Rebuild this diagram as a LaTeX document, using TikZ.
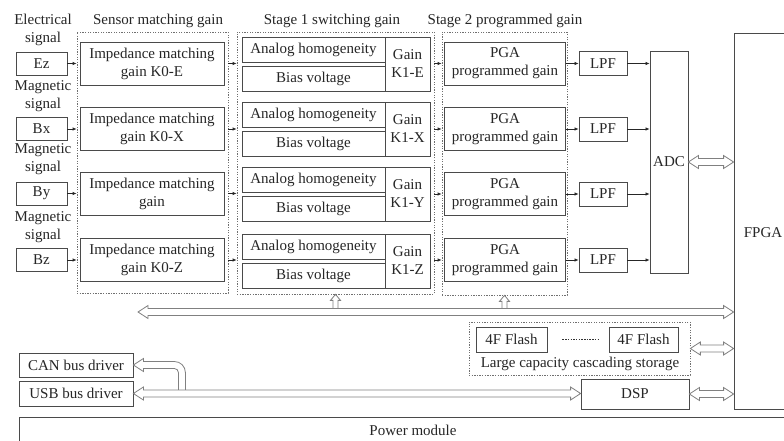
\documentclass[tikz,border=0pt]{standalone}
\usepackage{fontspec}
\setmainfont{Liberation Serif}
\usetikzlibrary{arrows.meta,calc}
\definecolor{boxc}{HTML}{4A4A4A}
\definecolor{dashc}{HTML}{707070}
\definecolor{holc}{HTML}{808080}
% double-headed hollow horizontal arrow between two named coordinates (left, right)
\newcommand\hollowH[2]{%
  \draw[hollow] (#1) -- ++(10,-6.5) -- ++(0,3) -- ($(#2)+(-10,-3.5)$) -- ++(0,-3) -- (#2)
    -- ++(-10,6.5) -- ++(0,-3) -- ($(#1)+(10,3.5)$) -- ++(0,3) -- cycle;}
% hollow up arrow from bottom coordinate #1 to tip #2
\newcommand\hollowUp[2]{%
  \draw[hollow] ($(#1)+(-2.5,0)$) -- ($(#2)+(-2.5,6)$) -- ++(-2.5,0) -- (#2) -- ++(5,6)
    -- ++(-2.5,0) -- ($(#1)+(2.5,0)$);}
\begin{document}
\begin{tikzpicture}[x=1pt,y=-1pt,
  every node/.style={font=\fontsize{15}{18}\selectfont, text=black!85},
  box/.style={draw=boxc, line width=0.8pt, inner sep=0pt, align=center},
  grp/.style={draw=dashc, line width=0.7pt, dash pattern=on 1.3pt off 1.3pt, inner sep=0pt},
  txt/.style={align=center, inner sep=0pt},
  sarr/.style={line width=0.7pt, draw=black!85, -{Latex[length=4pt,width=3.5pt]}},
  hollow/.style={draw=holc, line width=0.8pt, fill=white, line join=miter}]
\useasboundingbox (0,0) rectangle (784,441);
\fill[white] (0,0) rectangle (784,441);
\clip (0,0) rectangle (784,441);

% headers
\node[txt] (hd1) at (158,21) {Sensor matching gain};
\node[txt] (hd2) at (332,21) {Stage 1 switching gain};
\node[txt] (hd3) at (505,21) {Stage 2 programmed gain};

% input labels and boxes
\node[txt] (lE) at (43,30) {Electrical\\signal};
\node[txt] (lX) at (43,96.5) {Magnetic\\signal};
\node[txt] (lY) at (43,159.5) {Magnetic\\signal};
\node[txt] (lZ) at (43,227.5) {Magnetic\\signal};
\node[box, minimum width=51pt, minimum height=23pt] (ez) at (41.5,63.5) {Ez};
\node[box, minimum width=51pt, minimum height=23pt] (bx) at (41.5,129) {Bx};
\node[box, minimum width=51pt, minimum height=23pt] (by) at (41.5,193.5) {By};
\node[box, minimum width=51pt, minimum height=23pt] (bz) at (41.5,260) {Bz};

% group 1
\node[grp, minimum width=151pt, minimum height=261pt] (s1) at (152.5,162.5) {};
\node[box, minimum width=144pt, minimum height=43pt] (imp1) at (152,63.5) {Impedance matching\\gain K0-E};
\node[box, minimum width=144pt, minimum height=43pt] (imp2) at (152,129) {Impedance matching\\gain K0-X};
\node[box, minimum width=144pt, minimum height=43pt] (imp3) at (152,193.5) {Impedance matching\\gain};
\node[box, minimum width=144pt, minimum height=43pt] (imp4) at (152,260) {Impedance matching\\gain K0-Z};

% group 2
\node[grp, minimum width=197pt, minimum height=262pt] (s2) at (335.5,163) {};
\foreach \g/\k/\lab in {64/1/E,129/2/X,194/3/Y,261/4/Z}{
  \node[box, minimum width=143pt, minimum height=25pt] (an\k) at (313.5,\g-14.5) {Analog homogeneity};
  \node[box, minimum width=143pt, minimum height=25pt] (bi\k) at (313.5,\g+14.5) {Bias voltage};
  \node[box, minimum width=45pt, minimum height=54pt] (g\k) at (407.5,\g) {Gain\\K1-\lab};
}

% group 3
\node[grp, minimum width=125pt, minimum height=263pt] (s3) at (504.5,163.5) {};
\foreach \p/\k in {63.5/1,129/2,194/3,260/4}{
  \node[box, minimum width=121pt, minimum height=43pt] (pga\k) at (505,\p) {PGA\\programmed gain};
  \node[box, minimum width=48pt, minimum height=24pt] (lpf\k) at (603,\p) {LPF};
}

% ADC, FPGA
\node[box, minimum width=38pt, minimum height=222pt] (adc) at (669,162) {ADC};
\node[box, minimum width=58pt, minimum height=376pt,
      label={[txt, yshift=-12pt]center:FPGA}] (fpga) at (763,221) {};

% small arrows
\draw[sarr] (ez.east) -- (ez.east -| s1.west);
\draw[sarr] (bx.east) -- (bx.east -| s1.west);
\draw[sarr] (by.east) -- (by.east -| s1.west);
\draw[sarr] (bz.east) -- (bz.east -| s1.west);
\foreach \k in {1,2,3,4}{
  \draw[sarr] (imp\k.east -| s1.east) -- (imp\k.east -| s2.west);
  \draw[sarr] (pga\k.west -| s2.east) -- (pga\k.west -| s3.west);
  \draw[sarr] (pga\k.east) -- (lpf\k.west);
  \draw[sarr] (lpf\k.east) -- (lpf\k.east -| adc.west);
}

% storage, DSP, bus drivers, power
\node[grp, minimum width=221pt, minimum height=53pt] (st) at (579.5,348.5) {};
\node[box, minimum width=71pt, minimum height=25pt] (f1) at (511.5,339.5) {4F Flash};
\node[box, minimum width=69pt, minimum height=25pt] (f2) at (643.5,339.5) {4F Flash};
\node[txt] (stl) at (580,363.5) {Large capacity cascading storage};
\draw[line width=0.7pt, draw=black!80, dash pattern=on 1.5pt off 1.2pt, shorten <=15pt, shorten >=11pt] (f1.east) -- (f2.west);
\node[box, minimum width=108pt, minimum height=30pt] (dsp) at (635,394) {DSP};
\node[box, minimum width=114pt, minimum height=24pt] (can) at (76,365) {CAN bus driver};
\node[box, minimum width=114pt, minimum height=25pt] (usb) at (76,393.5) {USB bus driver};
\node[box, minimum width=788pt, minimum height=26pt] (pwr) at (413,430) {Power module};

% hollow arrows
\coordinate (busL) at (138,312);
\coordinate (busR) at (busL -| fpga.west);
\coordinate (u2) at ($(s2.south |- busL)+(0,-3.5)$);
\coordinate (u3) at ($(s3.south |- busL)+(0,-3.5)$);
\hollowUp{u2}{s2.south}
\hollowUp{u3}{s3.south}
\hollowH{busL}{busR}

\coordinate (ha) at (adc.east);
\coordinate (hb) at (adc.east -| fpga.west);
\hollowH{ha}{hb}
\coordinate (sa) at (st.east);
\coordinate (sb) at (st.east -| fpga.west);
\hollowH{sa}{sb}
\coordinate (da) at (dsp.east);
\coordinate (db) at (dsp.east -| fpga.west);
\hollowH{da}{db}

% CAN arrow joining the USB bus
\coordinate (cc) at ($(can.east)+(41,7.5)$);
\coordinate (cb) at ($(cc |- usb.east)+(0,-3.5)$);
\draw[hollow] ($(cb)+(11,0)$) -- ($(cc)+(11,0)$) arc[start angle=0, end angle=-90, radius=11]
  -- ($(can.east)+(10,-3.5)$) -- ++(0,-3) -- (can.east) -- ++(10,6.5) -- ++(0,-3)
  -- ($(cc)+(0,-4)$) arc[start angle=-90, end angle=0, radius=4] -- ($(cb)+(4,0)$);
\coordinate (ua) at (usb.east);
\coordinate (ub) at (usb.east -| dsp.west);
\hollowH{ua}{ub}
\end{tikzpicture}
\end{document}
